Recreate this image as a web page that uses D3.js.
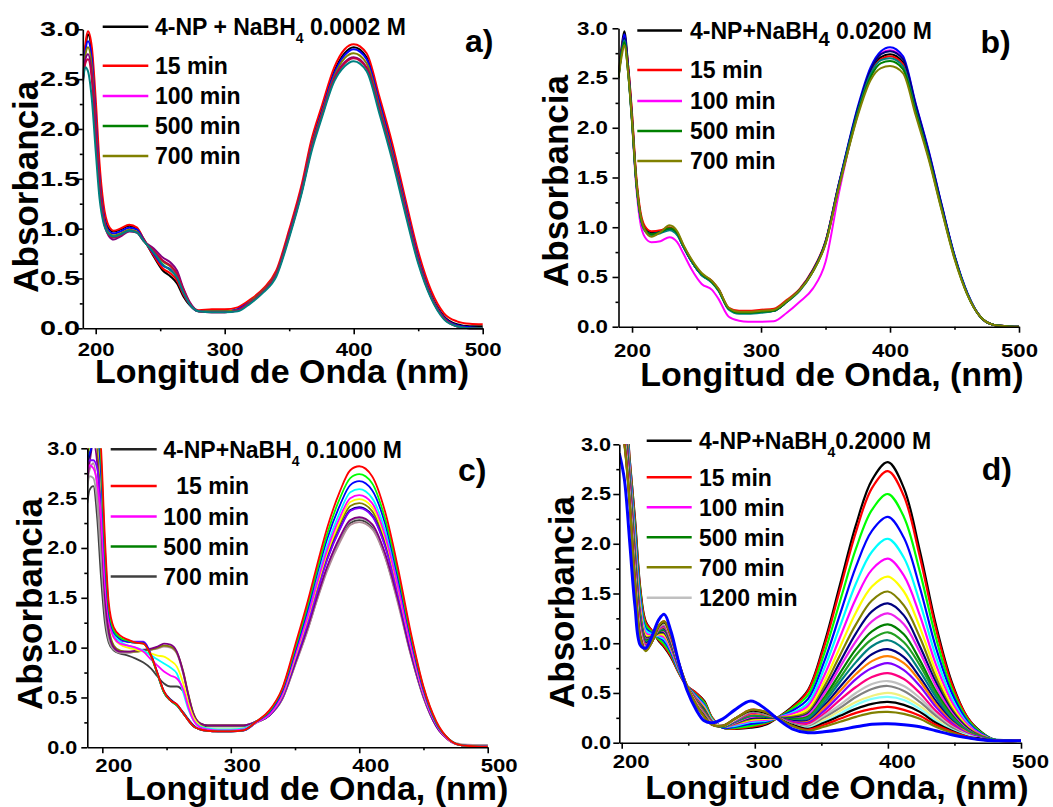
<!DOCTYPE html>
<html lang="es">
<head>
<meta charset="UTF-8">
<title>Absorbancia 4-NP + NaBH4</title>
<script src="https://d3js.org/d3.v7.min.js"></script>
<style>
  body { margin: 0; background: #fff; }
  svg text { font-family: "Liberation Sans", Arial, Helvetica, sans-serif; font-weight: bold; fill: #000; }
</style>
</head>
<body>
<svg id="chart" width="1053" height="807"><defs></defs></svg>
<script>
// ---------- panel a) 0.0002 M ----------
var aWave = [190,192,194,197,200,203,206,210,214,219,226,232,237,245,252,258,263,268,273,280,290,300,310,320,330,340,350,360,367,375,385,393,400,410,420,430,440,450,460,470,480,490,500];
var aBlack  = [2.50,2.80,2.95,2.75,2.15,1.55,1.18,1.00,0.97,0.99,1.03,1.00,0.90,0.72,0.58,0.52,0.45,0.32,0.23,0.17,0.17,0.17,0.19,0.27,0.38,0.55,0.95,1.42,1.84,2.18,2.58,2.76,2.82,2.72,2.28,1.80,1.25,0.72,0.34,0.12,0.04,0.02,0.02];
var aRed    = [2.52,2.85,2.98,2.82,2.30,1.65,1.25,1.03,0.98,1.00,1.04,1.01,0.90,0.73,0.60,0.55,0.48,0.34,0.24,0.18,0.19,0.19,0.21,0.29,0.40,0.58,0.99,1.46,1.88,2.22,2.62,2.80,2.85,2.76,2.32,1.85,1.30,0.77,0.38,0.15,0.07,0.045,0.04];
var aBlue   = [2.50,2.78,2.88,2.70,2.10,1.50,1.15,0.98,0.95,0.97,1.01,0.99,0.89,0.75,0.63,0.59,0.51,0.36,0.24,0.17,0.17,0.17,0.19,0.27,0.38,0.55,0.95,1.41,1.82,2.16,2.56,2.74,2.80,2.70,2.26,1.78,1.24,0.71,0.33,0.11,0.03,0.01,0.0];
var aOlive  = [2.49,2.74,2.82,2.62,2.03,1.46,1.12,0.96,0.93,0.95,0.99,0.97,0.88,0.77,0.67,0.62,0.54,0.38,0.25,0.17,0.17,0.17,0.18,0.27,0.38,0.55,0.94,1.40,1.81,2.14,2.53,2.71,2.76,2.66,2.22,1.75,1.21,0.69,0.32,0.10,0.02,0.0,0.0];
var aPurple = [2.48,2.70,2.75,2.55,1.98,1.42,1.10,0.93,0.89,0.92,0.97,0.96,0.88,0.80,0.71,0.66,0.58,0.40,0.26,0.17,0.16,0.16,0.18,0.26,0.37,0.54,0.93,1.39,1.79,2.12,2.51,2.67,2.72,2.62,2.19,1.72,1.19,0.68,0.31,0.10,0.02,0.0,0.0];
var aWine   = [2.47,2.66,2.70,2.50,1.93,1.40,1.09,0.94,0.91,0.93,0.98,0.96,0.88,0.78,0.68,0.63,0.55,0.39,0.25,0.17,0.16,0.16,0.18,0.26,0.37,0.54,0.93,1.39,1.79,2.12,2.50,2.66,2.71,2.61,2.18,1.71,1.18,0.67,0.31,0.10,0.02,0.0,0.0];
var aTeal   = [2.45,2.62,2.58,2.30,1.78,1.30,1.06,0.95,0.92,0.94,0.98,0.96,0.88,0.76,0.64,0.58,0.51,0.36,0.24,0.17,0.16,0.16,0.17,0.25,0.36,0.52,0.91,1.37,1.76,2.10,2.48,2.63,2.68,2.58,2.15,1.68,1.15,0.65,0.30,0.09,0.02,0.0,0.0];
var aColors = ["#000000","#ff0000","#0000ff","#808000","#800080","#c00040","#008080"];
var aMain = ["4-NP + NaBH", "4", " 0.0002 M"];
var aLegend = ["15 min", "100 min", "500 min", "700 min"];
var aLegColors = ["#000000","#ff0000","#ff00ff","#008000","#808000"];

// ---------- panel b) 0.0200 M ----------
var bWave = [189.5,192,194,197,200,203,206,210,215,222,229,235,240,246,254,262,267,275,283,290,300,310,320,330,340,350,360,367,375,385,393,400,410,420,430,440,450,460,470,480,490,500];
var bMagenta = [2.52,2.78,2.90,2.58,2.06,1.45,1.08,0.90,0.85,0.86,0.90,0.85,0.73,0.58,0.43,0.37,0.28,0.10,0.06,0.05,0.05,0.055,0.14,0.25,0.38,0.65,1.32,1.74,2.17,2.58,2.75,2.78,2.70,2.23,1.76,1.22,0.71,0.33,0.10,0.02,0.005,0.0];
var bBlack = [2.52,2.82,2.97,2.62,2.12,1.52,1.17,0.99,0.95,0.96,0.99,0.93,0.80,0.66,0.52,0.45,0.37,0.18,0.15,0.15,0.16,0.17,0.26,0.37,0.56,0.85,1.41,1.78,2.18,2.56,2.71,2.74,2.66,2.20,1.74,1.21,0.71,0.33,0.10,0.02,0.005,0.0];
var bRed   = [2.54,2.80,2.92,2.62,2.15,1.56,1.20,1.01,0.96,0.97,1.00,0.94,0.81,0.67,0.53,0.46,0.38,0.19,0.16,0.16,0.17,0.18,0.27,0.38,0.57,0.86,1.42,1.78,2.17,2.55,2.69,2.72,2.64,2.19,1.73,1.20,0.70,0.33,0.10,0.02,0.005,0.0];
var bBlue  = [2.50,2.78,2.94,2.58,2.08,1.50,1.15,0.97,0.93,0.95,0.98,0.93,0.80,0.66,0.52,0.45,0.37,0.18,0.14,0.14,0.15,0.16,0.25,0.37,0.56,0.85,1.42,1.80,2.21,2.61,2.77,2.81,2.72,2.24,1.77,1.23,0.72,0.34,0.10,0.02,0.005,0.0];
var bNavy  = [2.51,2.78,2.90,2.58,2.08,1.50,1.15,0.97,0.93,0.95,0.98,0.93,0.80,0.66,0.52,0.45,0.37,0.18,0.14,0.14,0.15,0.16,0.25,0.37,0.56,0.85,1.41,1.79,2.19,2.58,2.74,2.77,2.69,2.22,1.75,1.22,0.71,0.33,0.10,0.02,0.005,0.0];
var bTeal  = [2.50,2.76,2.88,2.55,2.05,1.48,1.14,0.96,0.92,0.94,0.97,0.92,0.80,0.66,0.52,0.44,0.36,0.17,0.13,0.13,0.14,0.16,0.25,0.36,0.55,0.84,1.40,1.77,2.16,2.54,2.68,2.70,2.62,2.17,1.71,1.19,0.70,0.33,0.10,0.02,0.005,0.0];
var bGreen = [2.51,2.76,2.86,2.55,2.06,1.50,1.16,0.98,0.93,0.95,0.99,0.94,0.81,0.67,0.53,0.45,0.37,0.18,0.14,0.14,0.15,0.16,0.25,0.37,0.55,0.84,1.39,1.75,2.14,2.51,2.65,2.67,2.59,2.15,1.70,1.18,0.69,0.32,0.10,0.02,0.005,0.0];
var bOlive = [2.50,2.72,2.83,2.55,2.08,1.52,1.17,0.97,0.905,0.95,1.02,0.96,0.82,0.68,0.54,0.46,0.38,0.19,0.15,0.15,0.16,0.17,0.26,0.37,0.55,0.83,1.38,1.74,2.12,2.48,2.60,2.62,2.55,2.12,1.68,1.17,0.68,0.32,0.10,0.02,0.005,0.0];
var bColors = ["#ff00ff","#000000","#ff0000","#0000ff","#000080","#008080","#008000","#808000"];
var bMain = ["4-NP+NaBH", "4", " 0.0200 M"];
var bLegend = ["15 min", "100 min", "500 min", "700 min"];
var bLegColors = ["#000000","#ff0000","#ff00ff","#008000","#808000"];

// ---------- panel c) 0.1000 M ----------
var cWave = [188.3,190,193,196,199,202,205,209,214,220,226,232,238,243,248,253,258,263,267,271,276,282,290,300,310,320,330,340,350,360,367,375,385,393,400,410,420,430,440,450,460,470,480,500];
var cDark    = [2.45,2.58,2.62,2.30,1.70,1.25,1.05,0.97,0.94,0.92,0.89,0.85,0.79,0.71,0.64,0.61,0.61,0.56,0.45,0.31,0.23,0.21,0.21,0.21,0.21,0.26,0.32,0.48,0.83,1.19,1.48,1.79,2.08,2.25,2.28,2.21,1.92,1.47,0.94,0.50,0.21,0.07,0.02,0.02];
var cGray    = [2.60,2.72,2.70,2.45,1.90,1.35,1.08,0.98,0.95,0.95,0.96,0.97,0.98,1.00,1.02,1.01,0.95,0.74,0.52,0.33,0.24,0.22,0.22,0.22,0.22,0.26,0.32,0.49,0.83,1.20,1.49,1.80,2.10,2.27,2.30,2.23,1.94,1.48,0.95,0.51,0.21,0.07,0.02,0.02];
var cMauve   = [2.65,2.78,2.85,2.60,2.05,1.42,1.12,0.99,0.95,0.95,0.96,0.97,0.98,0.99,1.01,1.00,0.94,0.74,0.51,0.33,0.24,0.22,0.22,0.22,0.22,0.26,0.32,0.48,0.82,1.18,1.47,1.77,2.06,2.23,2.26,2.19,1.91,1.45,0.93,0.50,0.21,0.07,0.03,0.02];
var cOlive   = [2.80,2.95,3.20,3.00,2.40,1.60,1.20,1.02,0.97,0.96,0.96,0.97,0.98,1.00,1.02,1.01,0.95,0.76,0.53,0.34,0.24,0.22,0.22,0.22,0.22,0.25,0.32,0.51,0.89,1.28,1.59,1.92,2.24,2.42,2.45,2.37,2.06,1.57,1.01,0.53,0.22,0.07,0.02,0.005];
var cPurple  = [2.70,2.85,3.05,2.85,2.25,1.50,1.15,1.00,0.96,0.96,0.97,0.98,0.99,1.01,1.04,1.03,0.96,0.75,0.52,0.33,0.24,0.22,0.22,0.22,0.22,0.26,0.32,0.49,0.84,1.21,1.50,1.81,2.11,2.28,2.31,2.24,1.95,1.49,0.95,0.51,0.21,0.07,0.02,0.01];
var cNavy    = [2.88,2.92,3.10,3.15,2.80,1.92,1.37,1.15,1.08,1.06,1.05,1.05,0.92,0.74,0.56,0.48,0.43,0.35,0.28,0.22,0.18,0.17,0.16,0.16,0.17,0.25,0.32,0.51,0.87,1.26,1.56,1.89,2.20,2.38,2.41,2.33,2.03,1.55,0.99,0.53,0.22,0.07,0.02,0.005];
var cViolet  = [2.85,2.88,2.88,2.80,2.40,1.70,1.30,1.12,1.07,1.06,1.06,1.06,0.93,0.74,0.55,0.47,0.42,0.34,0.27,0.21,0.18,0.165,0.16,0.16,0.17,0.25,0.32,0.50,0.87,1.25,1.55,1.88,2.19,2.37,2.40,2.32,2.02,1.54,0.99,0.52,0.22,0.07,0.02,0.005];
var cYellow  = [2.90,3.00,3.15,3.10,2.70,1.85,1.32,1.10,1.03,1.00,0.98,0.96,0.94,0.92,0.91,0.87,0.81,0.64,0.44,0.30,0.22,0.19,0.18,0.18,0.19,0.25,0.33,0.52,0.90,1.30,1.61,1.95,2.27,2.46,2.49,2.41,2.10,1.60,1.03,0.54,0.23,0.07,0.02,0.005];
var cCyan    = [2.92,3.05,3.25,3.20,2.80,1.95,1.38,1.14,1.06,1.02,1.00,0.97,0.92,0.88,0.84,0.80,0.74,0.55,0.38,0.27,0.21,0.19,0.18,0.18,0.19,0.25,0.34,0.54,0.94,1.35,1.67,2.02,2.36,2.56,2.59,2.50,2.18,1.66,1.07,0.56,0.24,0.08,0.02,0.005];
var cMagenta = [2.75,2.83,2.80,2.65,2.30,1.65,1.28,1.10,1.04,1.02,1.00,0.96,0.88,0.82,0.76,0.72,0.69,0.58,0.40,0.27,0.20,0.18,0.17,0.17,0.18,0.25,0.33,0.53,0.92,1.32,1.64,1.98,2.31,2.50,2.53,2.45,2.13,1.62,1.04,0.55,0.23,0.07,0.02,0.005];
var cBlue    = [2.90,2.95,3.05,3.10,2.75,1.90,1.36,1.15,1.09,1.06,1.05,1.05,0.92,0.73,0.55,0.47,0.42,0.34,0.27,0.21,0.18,0.165,0.16,0.16,0.17,0.26,0.35,0.56,0.96,1.39,1.73,2.09,2.43,2.63,2.67,2.58,2.25,1.71,1.10,0.58,0.24,0.08,0.02,0.005];
var cGreen   = [2.93,3.05,3.30,3.30,2.90,2.00,1.40,1.17,1.10,1.07,1.05,1.04,0.91,0.73,0.55,0.47,0.42,0.34,0.27,0.21,0.18,0.165,0.16,0.16,0.17,0.26,0.36,0.58,0.99,1.43,1.77,2.14,2.50,2.70,2.74,2.65,2.30,1.76,1.13,0.60,0.25,0.08,0.02,0.005];
var cRed     = [2.95,3.10,3.40,3.40,3.00,2.10,1.45,1.20,1.12,1.08,1.05,1.04,0.92,0.74,0.56,0.47,0.43,0.34,0.27,0.21,0.18,0.165,0.16,0.16,0.17,0.26,0.37,0.59,1.02,1.47,1.82,2.20,2.57,2.78,2.82,2.72,2.37,1.81,1.16,0.61,0.26,0.08,0.02,0.005];
var cColors = ["#404040","#a0a0a0","#b08c98","#808000","#800080","#000080","#8000ff","#ffff00","#00ffff","#ff00ff","#0000ff","#00ff00","#ff0000"];
var cMain = ["4-NP+NaBH", "4", " 0.1000 M"];
var cLegend = ["15 min", "100 min", "500 min", "700 min"];
var cLegColors = ["#222222","#ff0000","#ff00ff","#008000","#404040"];

// ---------- panel d) 0.2000 M ----------
var dWave = [198.2,202,206,210,214,218,223,228,232,237,243,249,256,262,268,276,285,297,308,317,328,340,352,364,376,388,400,412,424,436,448,460,470,480,500];
var d01 = [3.6,3.5,2.85,2.25,1.55,1.22,1.12,1.02,0.96,0.86,0.70,0.57,0.50,0.42,0.25,0.15,0.14,0.15,0.18,0.25,0.36,0.53,0.99,1.59,2.19,2.64,2.82,2.56,1.93,1.19,0.61,0.25,0.11,0.03,0.02];
var d02 = [3.59,3.48,2.84,2.22,1.53,1.21,1.12,1.03,0.97,0.87,0.70,0.57,0.50,0.41,0.25,0.15,0.14,0.16,0.19,0.25,0.35,0.52,0.96,1.54,2.12,2.56,2.73,2.48,1.87,1.15,0.59,0.25,0.10,0.03,0.02];
var d03 = [3.56,3.44,2.80,2.17,1.49,1.18,1.11,1.04,0.99,0.89,0.71,0.57,0.48,0.40,0.24,0.15,0.15,0.17,0.20,0.25,0.34,0.48,0.89,1.42,1.95,2.34,2.50,2.27,1.72,1.06,0.54,0.23,0.10,0.03,0.02];
var d04 = [3.53,3.39,2.77,2.11,1.44,1.15,1.10,1.06,1.02,0.91,0.72,0.57,0.47,0.38,0.23,0.15,0.16,0.19,0.21,0.25,0.32,0.44,0.81,1.29,1.77,2.13,2.27,2.06,1.56,0.96,0.50,0.21,0.09,0.03,0.02];
var d05 = [3.51,3.35,2.74,2.05,1.40,1.13,1.09,1.07,1.04,0.93,0.73,0.57,0.46,0.37,0.23,0.16,0.17,0.21,0.22,0.25,0.30,0.40,0.74,1.17,1.60,1.92,2.05,1.86,1.41,0.87,0.45,0.19,0.08,0.03,0.02];
var d06 = [3.48,3.31,2.72,2.00,1.36,1.10,1.08,1.08,1.06,0.94,0.74,0.57,0.45,0.36,0.22,0.16,0.18,0.22,0.23,0.25,0.29,0.37,0.67,1.06,1.45,1.74,1.85,1.68,1.28,0.79,0.41,0.18,0.08,0.03,0.02];
var d07 = [3.46,3.27,2.69,1.95,1.32,1.08,1.07,1.09,1.08,0.96,0.75,0.57,0.44,0.35,0.22,0.16,0.19,0.23,0.24,0.25,0.27,0.34,0.61,0.96,1.31,1.57,1.67,1.52,1.16,0.72,0.37,0.16,0.07,0.03,0.02];
var d08 = [3.44,3.24,2.67,1.91,1.29,1.06,1.07,1.10,1.10,0.97,0.75,0.57,0.44,0.34,0.21,0.16,0.19,0.24,0.25,0.25,0.26,0.31,0.56,0.88,1.19,1.43,1.52,1.38,1.06,0.66,0.34,0.15,0.07,0.03,0.02];
var d09 = [3.43,3.22,2.66,1.88,1.27,1.05,1.06,1.11,1.11,0.98,0.76,0.57,0.43,0.33,0.21,0.16,0.20,0.25,0.25,0.25,0.25,0.29,0.52,0.81,1.10,1.32,1.40,1.28,0.97,0.61,0.32,0.14,0.06,0.03,0.02];
var d10 = [3.42,3.20,2.64,1.86,1.25,1.04,1.06,1.12,1.12,0.99,0.76,0.57,0.43,0.32,0.21,0.16,0.20,0.26,0.26,0.25,0.24,0.28,0.49,0.76,1.02,1.22,1.30,1.19,0.91,0.57,0.30,0.13,0.06,0.03,0.02];
var d11 = [3.41,3.18,2.61,1.83,1.23,1.03,1.06,1.12,1.13,1.00,0.77,0.57,0.42,0.32,0.20,0.16,0.21,0.27,0.26,0.25,0.24,0.26,0.45,0.70,0.94,1.12,1.19,1.09,0.83,0.52,0.28,0.12,0.06,0.03,0.02];
var d12 = [3.40,3.16,2.59,1.81,1.21,1.02,1.05,1.13,1.14,1.01,0.77,0.57,0.42,0.31,0.20,0.16,0.21,0.27,0.27,0.25,0.23,0.25,0.43,0.65,0.88,1.04,1.11,1.01,0.78,0.49,0.26,0.12,0.06,0.03,0.02];
var d13 = [3.39,3.14,2.57,1.79,1.19,1.01,1.05,1.13,1.14,1.02,0.77,0.57,0.41,0.31,0.20,0.16,0.21,0.28,0.27,0.25,0.22,0.24,0.40,0.61,0.81,0.97,1.03,0.94,0.72,0.46,0.24,0.11,0.05,0.03,0.02];
var d14 = [3.38,3.13,2.55,1.76,1.18,1.00,1.05,1.14,1.15,1.02,0.78,0.57,0.41,0.30,0.20,0.17,0.22,0.29,0.28,0.25,0.22,0.22,0.37,0.56,0.74,0.89,0.94,0.86,0.66,0.42,0.22,0.10,0.05,0.02,0.02];
var d15 = [3.37,3.11,2.53,1.74,1.16,0.99,1.04,1.14,1.16,1.03,0.78,0.57,0.41,0.30,0.20,0.17,0.22,0.29,0.28,0.25,0.21,0.21,0.35,0.52,0.69,0.82,0.87,0.80,0.62,0.39,0.21,0.10,0.05,0.02,0.02];
var d16 = [3.36,3.10,2.52,1.72,1.15,0.98,1.04,1.15,1.17,1.04,0.78,0.57,0.40,0.29,0.19,0.17,0.22,0.30,0.29,0.25,0.21,0.20,0.32,0.48,0.64,0.75,0.80,0.73,0.57,0.36,0.20,0.09,0.05,0.02,0.02];
var d17 = [3.35,3.08,2.49,1.70,1.13,0.97,1.04,1.16,1.18,1.05,0.79,0.57,0.40,0.28,0.19,0.17,0.23,0.30,0.29,0.25,0.20,0.19,0.29,0.43,0.56,0.66,0.70,0.64,0.50,0.32,0.18,0.08,0.04,0.02,0.02];
var d18 = [3.34,3.06,2.47,1.68,1.11,0.96,1.03,1.16,1.19,1.05,0.79,0.57,0.39,0.28,0.19,0.17,0.23,0.31,0.29,0.25,0.19,0.17,0.27,0.38,0.50,0.59,0.62,0.57,0.45,0.29,0.16,0.08,0.04,0.02,0.02];
var d19 = [3.33,3.05,2.46,1.66,1.10,0.95,1.03,1.17,1.19,1.05,0.79,0.57,0.39,0.28,0.19,0.17,0.23,0.31,0.29,0.25,0.19,0.16,0.25,0.35,0.46,0.54,0.57,0.52,0.41,0.27,0.15,0.07,0.04,0.02,0.02];
var d20 = [3.32,3.04,2.45,1.65,1.09,0.94,1.03,1.17,1.20,1.06,0.79,0.57,0.39,0.27,0.19,0.17,0.23,0.32,0.30,0.25,0.18,0.15,0.23,0.32,0.41,0.47,0.50,0.46,0.37,0.24,0.13,0.07,0.04,0.02,0.02];
var d21 = [3.32,3.03,2.43,1.64,1.08,0.94,1.02,1.17,1.21,1.07,0.80,0.57,0.38,0.27,0.18,0.17,0.24,0.32,0.30,0.25,0.18,0.15,0.21,0.29,0.38,0.44,0.46,0.43,0.34,0.22,0.13,0.07,0.04,0.02,0.02];
var d22 = [3.31,3.02,2.42,1.63,1.07,0.93,1.02,1.17,1.21,1.07,0.80,0.57,0.38,0.27,0.18,0.17,0.24,0.32,0.30,0.25,0.18,0.14,0.20,0.27,0.34,0.39,0.41,0.38,0.31,0.20,0.12,0.06,0.04,0.02,0.02];
var d23 = [3.31,3.01,2.41,1.62,1.06,0.93,1.02,1.18,1.22,1.07,0.80,0.57,0.38,0.26,0.18,0.17,0.24,0.33,0.31,0.25,0.17,0.13,0.18,0.24,0.30,0.34,0.36,0.33,0.27,0.18,0.11,0.06,0.03,0.02,0.02];
var d24 = [3.30,3.00,2.40,1.60,1.05,0.92,1.02,1.18,1.22,1.08,0.80,0.57,0.38,0.26,0.18,0.17,0.24,0.33,0.31,0.25,0.17,0.12,0.16,0.21,0.26,0.30,0.31,0.29,0.24,0.16,0.10,0.05,0.03,0.02,0.02];
var d25 = [2.91,2.65,2.02,1.37,0.98,0.95,1.08,1.24,1.29,1.12,0.80,0.53,0.33,0.22,0.20,0.24,0.33,0.42,0.34,0.24,0.14,0.10,0.11,0.13,0.16,0.185,0.19,0.18,0.16,0.12,0.08,0.05,0.03,0.02,0.02];
var dColors = ["#000000","#ff0000","#00ff00","#0000ff","#00ffff","#ff00ff","#ffff00","#808000","#000080","#ee22ee",
               "#008000","#22a022","#008080","#000080","#ff8000","#8000ff","#ff0080","#c0c0c0","#808080","#f0f080",
               "#80ffff","#000000","#ff0000","#808000","#0000ff"];
var dMain = ["4-NP+NaBH", "4", "0.2000 M"];
var dLegend = ["15 min", "100 min", "500 min", "700 min", "1200 min"];
var dLegColors = ["#000000","#ff0000","#ff00ff","#008000","#808000","#c0c0c0"];

var svg = d3.select("#chart");

var panels = [
  { key: "a", xMin: 190, left: 82.8, right: 482.7, top: 29.3, bottom: 328.3,
    wave: aWave, curves: [aBlack, aRed, aBlue, aOlive, aPurple, aWine, aTeal], colors: aColors, lineWidth: 2,
    curve: d3.curveMonotoneX,
    xPad: 8.6, xShift: 0, yPad: -3.2, yFont: 20, yLabelW: 40,
    title: "Longitud de Onda (nm)", titleX: 282, titleY: 383.3, yTitleX: 38, yTitleY: 186.7,
    legX1: 102.7, legX2: 148.3, legTX: 155, legRows: [26.7, 65.7, 96, 126, 156], legIndent: [0, 0, 0, 0, 0],
    main: aMain, subSize: 14, subDy: 8, legend: aLegend, legColors: aLegColors,
    letter: "a)", letterX: 465, letterY: 52 },
  { key: "b", xMin: 189.5, left: 618.5, right: 1019, top: 28.3, bottom: 326.7,
    wave: bWave, curves: [bMagenta, bBlack, bRed, bBlue, bNavy, bTeal, bGreen, bOlive], colors: bColors, lineWidth: 2,
    curve: d3.curveMonotoneX,
    xPad: 11, xShift: 0, yPad: 4.5, yFont: 18.5, yLabelW: 31,
    title: "Longitud de Onda, (nm)", titleX: 832, titleY: 386, yTitleX: 567.6, yTitleY: 181,
    legX1: 637.3, legX2: 682, legTX: 690, legRows: [30.5, 70, 101, 131, 161], legIndent: [0, 0, 0, 0, 0],
    main: bMain, subSize: 20, subDy: 7, legend: bLegend, legColors: bLegColors,
    letter: "b)", letterX: 980.5, letterY: 52.7 },
  { key: "c", xMin: 188.3, left: 87.3, right: 487.7, top: 448.3, bottom: 747.3,
    wave: cWave, curves: [cDark, cGray, cMauve, cOlive, cPurple, cNavy, cViolet, cYellow, cCyan, cMagenta, cBlue, cGreen, cRed],
    colors: cColors, lineWidth: 1.8,
    curve: d3.curveMonotoneX,
    xPad: 5.3, xShift: 11, yPad: 4, yFont: 18.5, yLabelW: 30,
    title: "Longitud de Onda, (nm)", titleX: 316.7, titleY: 800, yTitleX: 41.7, yTitleY: 604,
    legX1: 110.7, legX2: 156.7, legTX: 163.3, legRows: [449.3, 486, 516.5, 546.5, 576.5], legIndent: [0, 13, 0, 0, 0],
    main: cMain, subSize: 14, subDy: 8, legend: cLegend, legColors: cLegColors,
    letter: "c)", letterX: 458, letterY: 481 },
  { key: "d", xMin: 198.2, left: 619.3, right: 1021, top: 444.3, bottom: 742.7,
    wave: dWave, curves: [d01,d02,d03,d04,d05,d06,d07,d08,d09,d10,d11,d12,d13,d14,d15,d16,d17,d18,d19,d20,d21,d22,d23,d24,d25],
    colors: dColors, lineWidth: 2.2, lastWidth: 3,
    curve: d3.curveCatmullRom.alpha(0.5),
    xPad: 6.2, xShift: 9, yPad: 2.3, yFont: 18.5, yLabelW: 30,
    title: "Longitud de Onda, (nm)", titleX: 837, titleY: 799, yTitleX: 574, yTitleY: 602,
    legX1: 646.7, legX2: 691.7, legTX: 699, legRows: [440.7, 477.3, 507.3, 537.3, 567.3, 597.7], legIndent: [0, 0, 0, 0, 0, 0],
    main: dMain, subSize: 14, subDy: 8, legend: dLegend, legColors: dLegColors,
    letter: "d)", letterX: 981.7, letterY: 480 }
];

function drawPanel(p) {
  var x = d3.scaleLinear().domain([p.xMin, 500]).range([p.left, p.right]);
  var y = d3.scaleLinear().domain([0, 3]).range([p.bottom, p.top]);
  var g = svg.append("g").attr("class", "panel-" + p.key);

  svg.select("defs").append("clipPath").attr("id", "clip-" + p.key)
    .append("rect")
    .attr("x", p.left).attr("y", p.top)
    .attr("width", p.right - p.left + 3).attr("height", p.bottom - p.top + 3);

  var line = d3.line()
    .x(function (d, i) { return x(p.wave[i]); })
    .y(function (d) { return y(d); })
    .curve(p.curve);

  var n = p.curves.length;
  g.append("g").attr("clip-path", "url(#clip-" + p.key + ")")
    .selectAll("path").data(p.curves).join("path")
    .attr("d", function (d) { return line(d); })
    .attr("fill", "none")
    .attr("stroke", function (d, i) { return p.colors[i]; })
    .attr("stroke-width", function (d, i) { return (p.lastWidth && i === n - 1) ? p.lastWidth : p.lineWidth; })
    .attr("stroke-linejoin", "round");

  // axes
  var xAx = g.append("g").attr("transform", "translate(0," + p.bottom + ")")
    .call(d3.axisBottom(x).tickValues([200, 300, 400, 500]).tickFormat(d3.format("d"))
      .tickSize(6).tickSizeOuter(0).tickPadding(p.xPad));
  g.append("g").attr("transform", "translate(0," + p.bottom + ")")
    .call(d3.axisBottom(x).tickValues([250, 350, 450]).tickFormat("").tickSize(3).tickSizeOuter(0))
    .call(function (s) { s.select(".domain").remove(); });

  var yAx = g.append("g").attr("transform", "translate(" + p.left + ",0)")
    .call(d3.axisLeft(y).tickValues([0, 0.5, 1, 1.5, 2, 2.5, 3]).tickFormat(d3.format(".1f"))
      .tickSize(6).tickSizeOuter(0).tickPadding(p.yPad));
  g.append("g").attr("transform", "translate(" + p.left + ",0)")
    .call(d3.axisLeft(y).tickValues([0.25, 0.75, 1.25, 1.75, 2.25, 2.75]).tickFormat("").tickSize(3).tickSizeOuter(0))
    .call(function (s) { s.select(".domain").remove(); });

  g.selectAll(".domain, .tick line").attr("stroke", "#000").attr("stroke-width", 1.6);
  xAx.attr("font-size", null).attr("font-family", null);
  yAx.attr("font-size", null).attr("font-family", null);

  xAx.selectAll("text")
    .attr("font-size", 18.5).attr("dx", p.xShift)
    .attr("textLength", 37).attr("lengthAdjust", "spacingAndGlyphs");
  yAx.selectAll("text")
    .attr("font-size", p.yFont)
    .attr("textLength", p.yLabelW).attr("lengthAdjust", "spacingAndGlyphs");

  // titles
  g.append("text").attr("x", p.titleX).attr("y", p.titleY)
    .attr("text-anchor", "middle").attr("font-size", 34).text(p.title);
  g.append("text")
    .attr("transform", "translate(" + p.yTitleX + "," + p.yTitleY + ") rotate(-90)")
    .attr("text-anchor", "middle").attr("font-size", 35).text("Absorbancia");

  // legend
  var rows = [p.main].concat(p.legend);
  rows.forEach(function (item, i) {
    var yy = p.legRows[i];
    g.append("line")
      .attr("x1", p.legX1).attr("x2", p.legX2).attr("y1", yy).attr("y2", yy)
      .attr("stroke", p.legColors[i]).attr("stroke-width", 2.6);
    var t = g.append("text")
      .attr("x", p.legTX + p.legIndent[i]).attr("y", yy).attr("dy", "0.36em")
      .attr("font-size", 23).style("white-space", "pre");
    if (i === 0) {
      t.append("tspan").text(item[0]);
      t.append("tspan").attr("font-size", p.subSize).attr("dy", p.subDy).text(item[1]);
      t.append("tspan").attr("dy", -p.subDy).text(item[2]);
    } else {
      t.text(item);
    }
  });

  g.append("text").attr("x", p.letterX).attr("y", p.letterY)
    .attr("font-size", 32).text(p.letter);
}

panels.forEach(drawPanel);
</script>
</body>
</html>
